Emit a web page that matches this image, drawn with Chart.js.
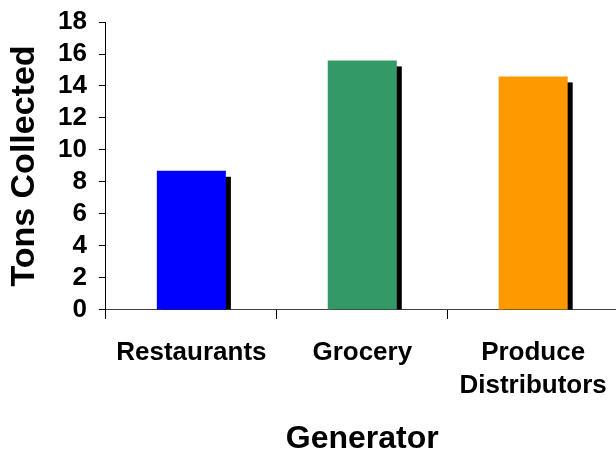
<!DOCTYPE html>
<html>
<head>
<meta charset="utf-8">
<title>Tons Collected by Generator</title>
<script src="https://cdn.jsdelivr.net/npm/chart.js@4.4.1/dist/chart.umd.min.js"></script>
<style>
  html, body { margin: 0; padding: 0; background: #ffffff; overflow: hidden; }
  #wrap { width: 616px; height: 453px; overflow: hidden; }
  canvas { display: block; }
</style>
</head>
<body>
<div id="wrap"><canvas id="chart" width="624" height="453"></canvas></div>
<script>
// Generators and tonnage collected from each
const categories = [['Restaurants'], ['Grocery'], ['Produce', 'Distributors']];
const tonsCollected = [8.7, 15.6, 14.6];
const barColors = ['#0000FF', '#339966', '#FF9900'];
const yTicks = [0, 2, 4, 6, 8, 10, 12, 14, 16, 18];

const FONT = "'Liberation Sans', Arial, Helvetica, sans-serif";

// Solid black drop shadow behind each bar, offset right and down
const barShadow = {
  id: 'barShadow',
  beforeDatasetsDraw(chart) {
    const { ctx, chartArea } = chart;
    ctx.save();
    ctx.beginPath();
    ctx.rect(chartArea.left, chartArea.top, chartArea.right - chartArea.left, chartArea.bottom - chartArea.top);
    ctx.clip();
    ctx.fillStyle = '#000000';
    chart.getDatasetMeta(0).data.forEach(bar => {
      const { x, y, base, width } = bar.getProps(['x', 'y', 'base', 'width'], true);
      ctx.fillRect(x - width / 2 + 5, y + 6, width, base - y - 6);
    });
    ctx.restore();
  }
};

new Chart(document.getElementById('chart'), {
  type: 'bar',
  data: {
    labels: categories,
    datasets: [{
      data: tonsCollected,
      backgroundColor: barColors,
      borderWidth: 0,
      barPercentage: 0.404,
      categoryPercentage: 1.0
    }]
  },
  options: {
    responsive: false,
    animation: false,
    events: [],
    layout: { padding: { top: 22, right: 1, bottom: 0, left: 0 } },
    plugins: {
      legend: { display: false },
      tooltip: { enabled: false },
      title: { display: false }
    },
    scales: {
      x: {
        grid: {
          offset: true,
          drawOnChartArea: false,
          drawTicks: true,
          tickLength: 9,
          tickColor: '#000000'
        },
        border: { display: true, color: '#404040', width: 1 },
        ticks: {
          color: '#000000',
          font: { family: FONT, size: 26, weight: 'bold', lineHeight: 1.27 },
          padding: 17,
          maxRotation: 0,
          autoSkip: false
        },
        title: {
          display: true,
          text: 'Generator',
          color: '#000000',
          font: { family: FONT, size: 32, weight: 'bold', lineHeight: 1 },
          padding: { top: 4, bottom: -2 }
        }
      },
      y: {
        min: 0,
        max: 18,
        afterBuildTicks(scale) {
          scale.ticks = yTicks.map(v => ({ value: v }));
        },
        grid: {
          drawOnChartArea: false,
          drawTicks: true,
          tickLength: 7,
          tickColor: '#000000'
        },
        border: { display: true, color: '#000000', width: 1 },
        ticks: {
          color: '#000000',
          font: { family: FONT, size: 26, weight: 'bold', lineHeight: 0.77 },
          padding: 12,
          autoSkip: false
        },
        title: {
          display: true,
          text: 'Tons Collected',
          color: '#000000',
          font: { family: FONT, size: 34, weight: 'bold', lineHeight: 1 },
          padding: { top: 8, bottom: 4 }
        }
      }
    }
  },
  plugins: [barShadow]
});
</script>
</body>
</html>
